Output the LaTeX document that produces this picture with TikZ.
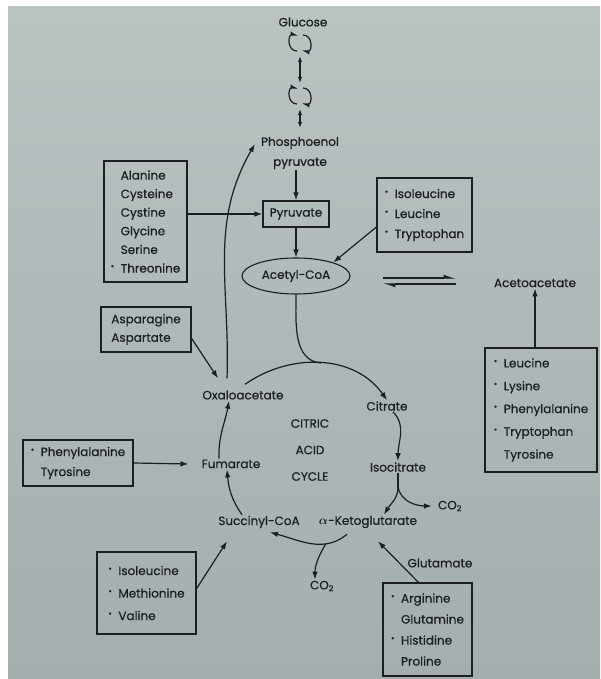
\documentclass[tikz,border=0pt]{standalone}
\usepackage{amsmath}
\usepackage{fontspec}
\setmainfont{Poppins}[FakeBold=0.6]
\usetikzlibrary{positioning,shapes}
\usetikzlibrary{arrows.meta}
\tikzset{>=latex}
\definecolor{ink}{RGB}{28,30,34}
\definecolor{paperlight}{RGB}{186,194,194}
\definecolor{paperdark}{RGB}{164,174,175}
\newcommand{\bul}{\makebox[10pt][l]{\raisebox{3.5pt}{\scalebox{0.7}{\textbullet}}}}
\newcommand{\nob}{\hspace*{10pt}}
\newcommand{\aafont}[1]{\fontsize{12}{#1}\selectfont}
\tikzstyle{node_met}=[font=\aafont{14}, text=ink, inner sep=1pt]
\tikzstyle{node_box}=[draw=ink, line width=1.1pt, text=ink, align=left, inner sep=2pt]
\tikzstyle{connect}=[line width=1.2pt, ink]
\tikzstyle{connect arrow}=[-{Latex[length=8,width=5.5]}, line width=1.2pt, ink]
\tikzstyle{connect both}=[{Latex[length=6,width=4.5]}-{Latex[length=6,width=4.5]}, line width=1.1pt, ink]
\tikzstyle{turn arrow}=[-{Latex[harpoon,length=6,width=8]}, line width=1.2pt, ink]
\tikzstyle{eq arrow}=[-{Latex[harpoon,length=10,width=7]}, line width=1.1pt, ink]

\begin{document}
\begin{tikzpicture}[x=1pt, y=-1pt, node distance=60pt, on grid]

% page
\useasboundingbox (0,0) rectangle (600,679);
\fill[white] (0,0) rectangle (600,679);
\shade[top color=paperlight, bottom color=paperdark] (8,7) rectangle (600,679);

% glucose to acetyl-CoA
\node[node_met] (glc) at (303,22) {Glucose};
\node[circle, minimum size=26pt, inner sep=0pt] (cycA) at (300,43) {};
\node[circle, minimum size=26pt, inner sep=0pt] (cycB) at (300,96) {};
\node[node_met, align=center, font=\aafont{20}] (pep) at (300,153) {Phosphoenol\\pyruvate};
\node[node_met, draw=ink, line width=1.1pt, minimum width=66pt, minimum height=26pt] (pyr) at (296,214) {Pyruvate};
\node[node_met, draw=ink, line width=1.1pt, ellipse, minimum width=108pt, minimum height=36pt, below=62pt of pyr] (acoa) {Acetyl-CoA};
\node[node_met] (acetoac) at (535,283) {Acetoacetate};

% citric acid cycle
\node[node_met] (oaa) at (243,395) {Oxaloacetate};
\node[node_met] (cit) at (387,406) {Citrate};
\node[node_met] (icit) at (398,467) {Isocitrate};
\node[node_met] (akg) at (368,522) {$\boldsymbol{\alpha}$-Ketoglutarate};
\node[node_met] (succ) at (259,522) {Succinyl-CoA};
\node[node_met] (fum) at (231,464) {Fumarate};
\node[node_met] (co2a) at (450,506) {CO\textsubscript{2}};
\node[node_met] (co2b) at (322,586) {CO\textsubscript{2}};
\node[node_met] (glu) at (440,563) {Glutamate};
\node[node_met, align=center, font=\aafont{26.5}] (tca) at (310,450) {CITRIC\\ACID\\CYCLE};
\coordinate[below=14pt of icit.south] (split);

% amino acid boxes
\node[node_box, font=\aafont{18.6}, minimum width=83pt, minimum height=121pt] (aaPyr) at (145.5,221.5)
    {\nob Alanine\\ \nob Cysteine\\ \nob Cystine\\ \nob Glycine\\ \nob Serine\\ \bul Threonine};
\node[node_box, font=\aafont{20}, minimum width=95pt, minimum height=74pt] (aaAcoa) at (424.5,215)
    {\bul Isoleucine\\ \bul Leucine\\ \bul Tryptophan};
\node[node_box, font=\aafont{22.8}, minimum width=112pt, minimum height=124pt] (aaAceto) at (541,410)
    {\bul Leucine\\ \bul Lysine\\ \bul Phenylalanine\\ \bul Tryptophan\\ \nob Tyrosine};
\node[node_box, font=\aafont{18.5}, minimum width=90pt, minimum height=45pt] (aaOaa) at (146,329.5)
    {Asparagine\\ Aspartate};
\node[node_box, font=\aafont{20}, minimum width=110pt, minimum height=46pt] (aaFum) at (78,463)
    {\bul Phenylalanine\\ \nob Tyrosine};
\node[node_box, font=\aafont{22.5}, minimum width=99pt, minimum height=82pt] (aaSucc) at (146.5,593)
    {\bul Isoleucine\\ \bul Methionine\\ \bul Valine};
\node[node_box, font=\aafont{21}, minimum width=89pt, minimum height=93pt] (aaAkg) at (427.5,629.5)
    {\bul Arginine\\ \nob Glutamine\\ \bul Histidine\\ \nob Proline};

% equilibrium
\coordinate (eqA) at (383,278);
\coordinate (eqB) at (456,278);
\coordinate (eqC) at (383,284);
\coordinate (eqD) at (456,284);
\draw[eq arrow] (eqA) -- (eqB);
\draw[eq arrow] (eqD) -- (eqC);

% reversible steps
\draw[turn arrow] ([xshift=-3,yshift=-8]cycA.center) to[out=180,in=180,looseness=1.6] ([xshift=-2,yshift=8]cycA.center);
\draw[turn arrow] ([xshift=3,yshift=8]cycA.center) to[out=0,in=0,looseness=1.6] ([xshift=2,yshift=-8]cycA.center);
\draw[turn arrow] ([xshift=-3,yshift=-8]cycB.center) to[out=180,in=180,looseness=1.6] ([xshift=-2,yshift=8]cycB.center);
\draw[turn arrow] ([xshift=3,yshift=8]cycB.center) to[out=0,in=0,looseness=1.6] ([xshift=2,yshift=-8]cycB.center);
\draw[connect both] (cycA) -- (cycB);
\draw[connect both] (cycB) -- ([yshift=8]pep.north);

\begin{scope}[connect arrow]
    \draw (pep.south -| pyr.north) -- (pyr.north);
    \draw (pyr.south) -- (acoa.north);
    \draw (aaPyr.east |- pyr.west) -- (pyr.west);
    \draw (aaAcoa.194) -- (acoa.20);
    \draw (aaAceto.north -| acetoac.south) -- (acetoac.south);
    \draw (aaOaa.-11) -- ([xshift=-25,yshift=11]oaa.north);
    \draw ([xshift=-16,yshift=11]oaa.north) to[out=88,in=240] ([xshift=-5,yshift=9]pep.west);

    \draw ([xshift=2,yshift=5]oaa.north) to[out=35,in=125] coordinate[pos=0.5] (tcaTop) (cit.north);
    \draw ([xshift=6]cit.south) to[out=-45,in=90] (icit.north);
    \draw (split) to[out=-90,in=60] ([xshift=16]akg.north);
    \draw (split) to[out=-80,in=180] ([xshift=-5]co2a.west);
    \draw ([xshift=-21,yshift=-5]akg.south) to[out=-140,in=-15] coordinate[pos=0.3] (akgOut) ([xshift=11,yshift=-3]succ.south);
    \draw (akgOut) to[out=-120,in=90] ([xshift=-7]co2b.north);
    \draw ([xshift=-17]succ.north) to[out=125,in=-85] ([xshift=-4]fum.south);
    \draw ([xshift=-12]fum.north) to[out=92,in=-100] ([xshift=-14]oaa.south);

    \draw (aaFum.east) -- ([xshift=-12]fum.west);
    \draw (aaSucc.5) -- ([xshift=-32,yshift=-12]succ.south);
    \draw ([xshift=-9]aaAkg.north) -- ([xshift=10,yshift=-12]akg.south);
\end{scope}
\draw[connect] (acoa.south) to[out=-90,in=175] (tcaTop);
\draw[connect] (icit.south) -- (split);

\end{tikzpicture}
\end{document}
